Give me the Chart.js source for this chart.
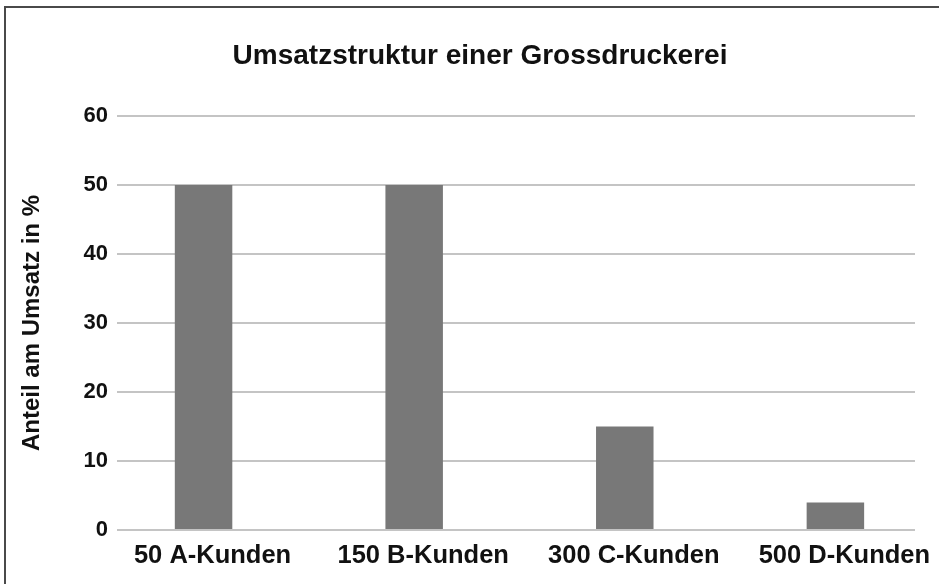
<!DOCTYPE html>
<html>
<head>
<meta charset="utf-8">
<script src="https://cdn.jsdelivr.net/npm/chart.js@4/dist/chart.umd.min.js"></script>
<style>
  html, body { margin: 0; padding: 0; background: #fff; }
  #wrap { position: relative; width: 939px; height: 584px; }
</style>
</head>
<body>
<div id="wrap"><canvas id="c" width="939" height="584"></canvas></div>
<script>
const chartTitle = 'Umsatzstruktur einer Grossdruckerei';
const yAxisTitle = 'Anteil am Umsatz in %';
const categories = ['50 A-Kunden', '150 B-Kunden', '300 C-Kunden', '500 D-Kunden'];
const shares = [50, 50, 15, 4];
const yTicks = [0, 10, 20, 30, 40, 50, 60];

const FONT = "'Liberation Sans', Arial, sans-serif";

const frame = {
  id: 'frame',
  beforeDraw(chart) {
    const ctx = chart.ctx;
    ctx.save();
    ctx.fillStyle = '#fff';
    ctx.fillRect(0, 0, chart.width, chart.height);
    ctx.strokeStyle = '#4a4a4a';
    ctx.lineWidth = 2;
    ctx.beginPath();
    ctx.moveTo(5, chart.height);
    ctx.lineTo(5, 7);
    ctx.lineTo(chart.width, 7);
    ctx.stroke();
    ctx.restore();
  },
  afterDraw(chart) {
    const ctx = chart.ctx;
    ctx.save();
    ctx.fillStyle = '#111';
    ctx.font = "bold 28px " + FONT;
    ctx.textAlign = 'center';
    ctx.textBaseline = 'alphabetic';
    ctx.fillText(chartTitle, 480, 63.5);
    ctx.restore();
  }
};

new Chart(document.getElementById('c'), {
  type: 'bar',
  data: {
    datasets: [{
      data: shares.map((v, i) => ({ x: i, y: v })),
      backgroundColor: '#787878',
      borderWidth: 0,
      categoryPercentage: 1,
      barPercentage: 0.273
    }]
  },
  options: {
    responsive: false,
    animation: false,
    devicePixelRatio: 1,
    layout: { padding: { left: 0, right: 24, top: 116, bottom: 0 } },
    plugins: {
      legend: { display: false },
      tooltip: { enabled: false },
      title: { display: false }
    },
    scales: {
      x: {
        type: 'linear',
        offset: false,
        min: -0.411,
        max: 3.378,
        grid: { display: false },
        border: { display: false },
        afterBuildTicks(scale) { scale.ticks = categories.map((_, i) => ({ value: i })); },
        afterFit(scale) { scale.height = 54; },
        ticks: {
          autoSkip: false,
          maxRotation: 0,
          padding: 3,
          labelOffset: 9,
          color: '#111',
          font: { family: FONT, size: 25.5, weight: 'bold' },
          callback: (v) => categories[v]
        }
      },
      y: {
        min: 0,
        max: 60,
        afterBuildTicks(scale) { scale.ticks = yTicks.map(v => ({ value: v })); },
        afterFit(scale) { scale.width = 117; },
        grid: { color: '#c4c4c4', lineWidth: 2, drawTicks: false },
        border: { display: false },
        ticks: {
          padding: 9,
          color: '#111',
          font: { family: FONT, size: 22, weight: 'bold' }
        },
        title: {
          display: true,
          text: yAxisTitle,
          color: '#111',
          font: { family: FONT, size: 24, weight: 'bold', lineHeight: 1.2 },
          padding: { top: 18, bottom: 0 }
        }
      }
    }
  },
  plugins: [frame]
});
</script>
</body>
</html>
